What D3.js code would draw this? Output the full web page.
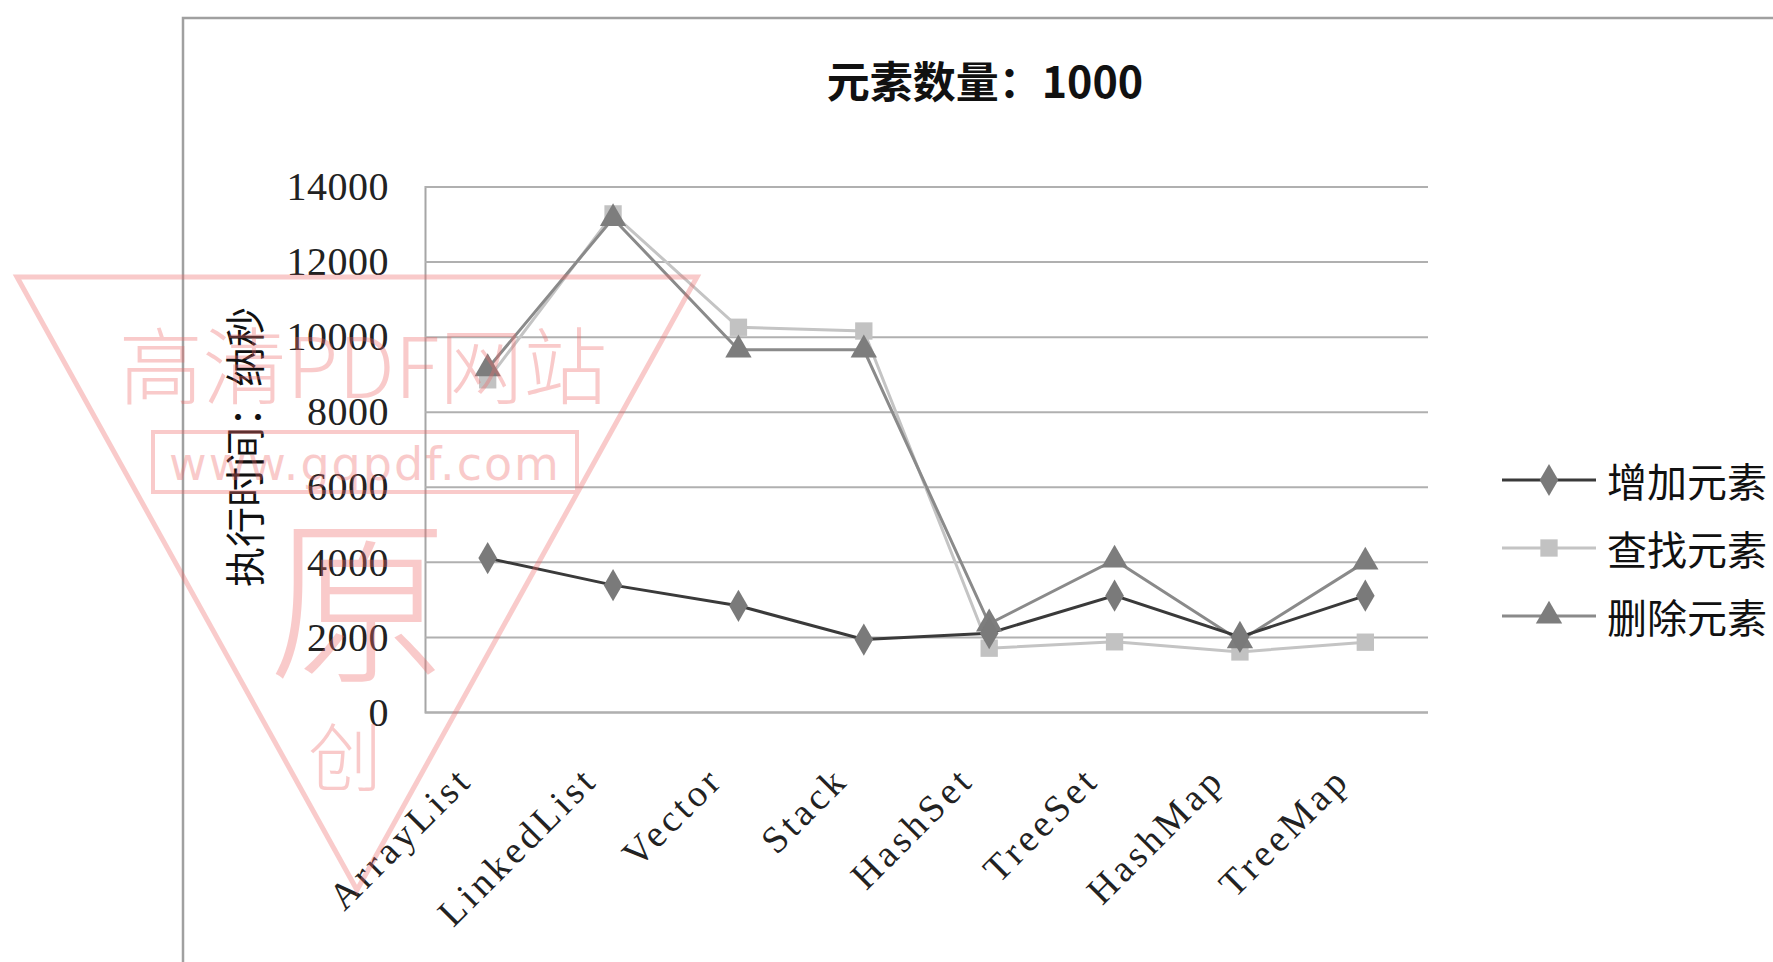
<!DOCTYPE html>
<html>
<head>
<meta charset="utf-8">
<script src="https://cdn.jsdelivr.net/npm/d3@7"></script>
<style>
html,body{margin:0;padding:0;background:#fff;}
svg{display:block;}
</style>
</head>
<body>
<svg id="chart" width="1773" height="962"></svg>
<script>
const categories = ["ArrayList","LinkedList","Vector","Stack","HashSet","TreeSet","HashMap","TreeMap"];
const addValues    = [4100, 3380, 2830, 1930, 2100, 3100, 2000, 3100];
const findValues   = [8850, 13270, 10250, 10150, 1700, 1870, 1600, 1860];
const deleteValues = [9150, 13150, 9650, 9650, 2350, 4050, 1900, 4000];
const seriesNames  = ["增加元素","查找元素","删除元素"];
const yTicks = [0, 2000, 4000, 6000, 8000, 10000, 12000, 14000];
const titleText = "元素数量：1000";
const yTitle = "执行时间：纳秒";

const svg = d3.select("#chart");
const W = 1773, H = 962;
const plot = {left: 425, right: 1428, top: 186.5, bottom: 712};

// chart frame
svg.append("rect").attr("x", 183).attr("y", 18).attr("width", W).attr("height", H)
  .attr("fill", "#fff").attr("stroke", "#a0a0a0").attr("stroke-width", 2.5);

const x = d3.scalePoint().domain(categories).range([plot.left, plot.right]).padding(0.5);
const y = d3.scaleLinear().domain([0, 14000]).range([plot.bottom, plot.top]);

// gridlines
const yAxis = d3.axisLeft(y).tickValues(yTicks).tickFormat(d3.format("d"))
  .tickSize(-(plot.right - plot.left)).tickPadding(36);
const gy = svg.append("g").attr("transform", `translate(${plot.left},0)`).call(yAxis);
gy.select(".domain").attr("stroke", "#a6a6a6").attr("stroke-width", 2);
gy.selectAll(".tick line").attr("stroke", "#b0b0b0").attr("stroke-width", 2);
gy.selectAll(".tick text").attr("font-family", "'Liberation Serif', serif").attr("font-size", 40)
  .attr("letter-spacing", "0.5px")
  .attr("fill", "#222").attr("dy", "0.33em");

// x axis labels
const xAxis = d3.axisBottom(x).tickSize(0).tickPadding(0);
const gx = svg.append("g").attr("transform", `translate(0,${plot.bottom})`).call(xAxis);
gx.select(".domain").remove();
gx.selectAll(".tick text")
  .attr("font-family", "'Liberation Serif', serif").attr("font-size", 38)
  .attr("letter-spacing", "4px")
  .attr("fill", "#222")
  .attr("text-anchor", "end")
  .attr("y", 0).attr("dy", 0)
  .attr("transform", "translate(-14,70) rotate(-45)");

// title
svg.append("text").attr("x", 985).attr("y", 98).attr("text-anchor", "middle")
  .attr("font-family", "'Noto Sans CJK SC', sans-serif").attr("font-weight", "bold")
  .attr("font-size", 43).attr("fill", "#111").text(titleText);

// y title
svg.append("text").attr("transform", "translate(243,447) rotate(-90)")
  .attr("text-anchor", "middle").attr("dominant-baseline", "central")
  .attr("font-family", "'Noto Sans CJK SC', sans-serif").attr("font-size", 40)
  .attr("fill", "#111").text(yTitle);

const series = [
  {name: seriesNames[0], values: addValues, line: "#3a3a3a", mark: "#7a7a7a", shape: d3.symbolDiamond, size: 300, sw: 3},
  {name: seriesNames[1], values: findValues, line: "#c4c4c4", mark: "#c2c2c2", shape: d3.symbolSquare, size: 300, sw: 3},
  {name: seriesNames[2], values: deleteValues, line: "#8a8a8a", mark: "#7d7d7d", shape: d3.symbolTriangle, size: 300, sw: 3}
];

const line = d3.line().x((d, i) => x(categories[i])).y(d => y(d));
const order = [1, 2, 0];
order.forEach(k => {
  const s = series[k];
  svg.append("path").datum(s.values).attr("d", line).attr("fill", "none")
    .attr("stroke", s.line).attr("stroke-width", s.sw);
});
order.forEach(k => {
  const s = series[k];
  svg.append("g").selectAll("path").data(s.values).join("path")
    .attr("d", d3.symbol().type(s.shape).size(s.size))
    .attr("transform", (d, i) => `translate(${x(categories[i])},${y(d)})`)
    .attr("fill", s.mark);
});

// legend
const lg = svg.append("g");
series.forEach((s, i) => {
  const cy = 480 + i * 68;
  lg.append("line").attr("x1", 1502).attr("x2", 1596).attr("y1", cy).attr("y2", cy)
    .attr("stroke", s.line).attr("stroke-width", 3);
  lg.append("path").attr("d", d3.symbol().type(s.shape).size(s.size)())
    .attr("transform", `translate(1549,${cy})`).attr("fill", s.mark);
  lg.append("text").attr("x", 1607).attr("y", cy).attr("dominant-baseline", "central")
    .attr("font-family", "'Noto Sans CJK SC', sans-serif").attr("font-size", 40)
    .attr("fill", "#111").text(s.name);
});

// watermark
const wm = svg.append("g").attr("opacity", 0.35).attr("fill", "none").attr("stroke", "#ee6a6a");
wm.append("path").attr("d", "M17,277 L697,277 L357,890 Z").attr("stroke-width", 5);
wm.append("rect").attr("x", 153).attr("y", 432).attr("width", 424).attr("height", 60).attr("stroke-width", 4);
const wt = svg.append("g").attr("opacity", 0.35).attr("fill", "#ee6a6a");
wt.append("text").attr("x", 363).attr("y", 398).attr("text-anchor", "middle")
  .attr("font-family", "'Noto Sans CJK SC', sans-serif").attr("font-size", 84).attr("font-weight", 300)
  .text("高清PDF网站");
wt.append("text").attr("x", 365).attr("y", 480).attr("text-anchor", "middle")
  .attr("font-family", "'DejaVu Sans', sans-serif").attr("font-size", 46).attr("letter-spacing", "2px")
  .text("www.gqpdf.com");
wt.append("text").attr("x", 358).attr("y", 668).attr("text-anchor", "middle")
  .attr("font-family", "'Noto Sans CJK SC', sans-serif").attr("font-size", 180).attr("font-weight", 300)
  .text("原");
wt.append("text").attr("x", 345).attr("y", 785).attr("text-anchor", "middle")
  .attr("font-family", "'Noto Sans CJK SC', sans-serif").attr("font-size", 74).attr("font-weight", 300)
  .text("创");
</script>
</body>
</html>
